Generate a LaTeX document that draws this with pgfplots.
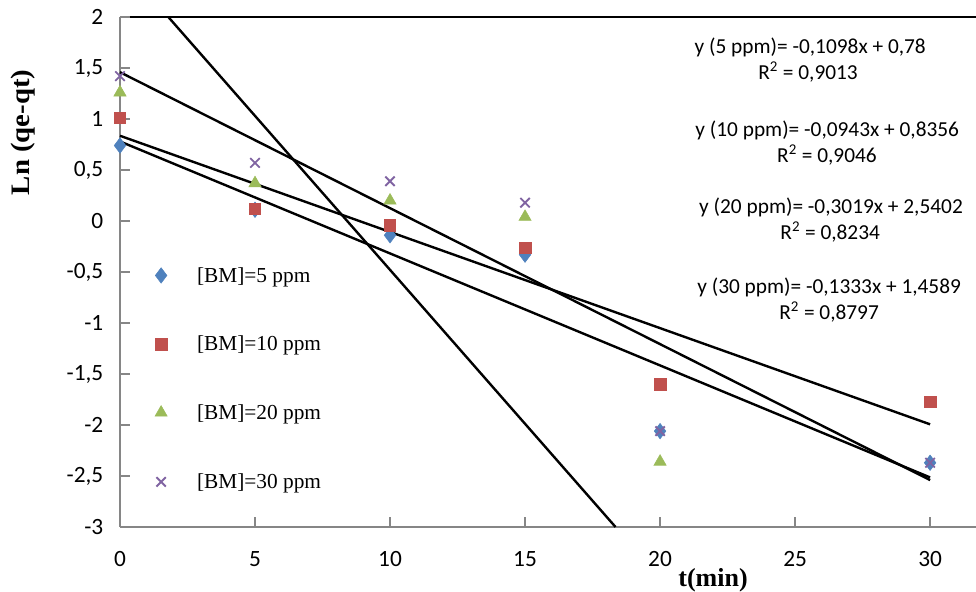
\documentclass[border=0pt]{standalone}
\usepackage{pgfplots}
\pgfplotsset{compat=1.18}
\usepackage{fontspec}
\setmainfont{Liberation Serif}
\newfontfamily\calibri{Carlito}
\definecolor{cblue}{HTML}{4F81BD}
\definecolor{cred}{HTML}{C0504D}
\definecolor{cgreen}{HTML}{9BBB59}
\definecolor{cpurple}{HTML}{8064A2}
\definecolor{axgray}{HTML}{868686}
\begin{document}
\begin{tikzpicture}
\path[use as bounding box] (-90pt,-48.75pt) rectangle (642pt,395.25pt);
\begin{axis}[
  at={(0pt,0pt)}, anchor=south west,
  scale only axis, width=642pt, height=382.5pt,
  xmin=0, xmax=31.7, ymin=-3, ymax=2,
  clip=false,
  axis x line*=bottom, axis y line*=left,
  xtick={0,5,10,15,20,25,30},
  ytick={-3,-2.5,-2,-1.5,-1,-0.5,0,0.5,1,1.5,2},
  tick align=inside, major tick length=7.5pt,
  axis line style={draw=axgray, line width=1.1pt},
  every tick/.style={draw=axgray, line width=1.1pt},
  /pgf/number format/use comma,
  /pgf/number format/assume math mode=true,
  tick label style={font=\calibri\fontsize{17.5}{20}\selectfont},
  xticklabel style={yshift=-15pt},
  yticklabel style={xshift=-9pt},
  legend style={at={(axis description cs:0.0334,0.5230)}, anchor=north west,
    draw=none, fill=none, inner sep=0pt, column sep=17.75pt, row sep=31.25pt,
    font=\fontsize{16}{18}\selectfont,
    nodes={inner sep=0pt, text height=12pt, text depth=4pt}},
  legend cell align=left,
  legend image code/.code={\path (0pt,-6pt) (17pt,12pt);
    \draw[mark repeat=2,mark phase=2,#1] plot coordinates {(0pt,1pt)(8.5pt,1pt)(17pt,1pt)};},
]
\addplot[only marks, mark=diamond*, mark size=5.8pt, color=cblue]
  coordinates {(0,0.74)(5,0.11)(10,-0.14)(15,-0.33)(20,-2.06)(30,-2.37)};
\addlegendentry{[BM]=5 ppm}
\addplot[only marks, mark=square*, mark size=4.3pt, color=cred]
  coordinates {(0,1.01)(5,0.12)(10,-0.04)(15,-0.26)(20,-1.60)(30,-1.77)};
\addlegendentry{[BM]=10 ppm}
\addplot[only marks, mark=triangle*, mark size=5.3pt, color=cgreen]
  coordinates {(0,1.26)(5,0.37)(10,0.20)(15,0.04)(20,-2.36)};
\addlegendentry{[BM]=20 ppm}
\addplot[only marks, mark=x, mark size=5pt, line width=1.4pt, color=cpurple]
  coordinates {(0,1.42)(5,0.57)(10,0.39)(15,0.18)(20,-2.06)(30,-2.37)};
\addlegendentry{[BM]=30 ppm}
% trend lines
\addplot[black, line width=1.8pt, forget plot] coordinates {(0,0.78)(30,-2.514)};
\addplot[black, line width=1.8pt, forget plot] coordinates {(0,0.8356)(30,-1.9934)};
\addplot[black, line width=1.8pt, forget plot] coordinates {(1.7893,2)(18.351,-3)};
\addplot[black, line width=1.8pt, forget plot] coordinates {(0,1.4589)(30,-2.5401)};
% top border line
\addplot[black, line width=1.8pt, forget plot] coordinates {(0.37,2)(31.7,2)};
\begin{scope}[every node/.style={font=\calibri\fontsize{16}{19}\selectfont, inner sep=0pt}]
\node at (axis cs:25.56,1.706) {y (5 ppm)= -0,1098x + 0,78};
\node at (axis cs:25.48,1.461) {R\textsuperscript{2} = 0,9013};
\node at (axis cs:26.19,0.892) {y (10 ppm)= -0,0943x + 0,8356};
\node at (axis cs:26.18,0.647) {R\textsuperscript{2} = 0,9046};
\node at (axis cs:26.33,0.137) {y (20 ppm)= -0,3019x + 2,5402};
\node at (axis cs:26.30,-0.108) {R\textsuperscript{2} = 0,8234};
\node at (axis cs:26.26,-0.647) {y (30 ppm)= -0,1333x + 1,4589};
\node at (axis cs:26.26,-0.892) {R\textsuperscript{2} = 0,8797};
\end{scope}
\end{axis}
\node[rotate=90] at (-72.75pt,296pt) {\scalebox{1.08}[1]{\fontsize{20}{22}\selectfont\bfseries Ln (qe-qt)}};
\node at (444.75pt,-39.75pt) {\fontsize{19.5}{22}\selectfont\bfseries t(min)};
\end{tikzpicture}
\end{document}
